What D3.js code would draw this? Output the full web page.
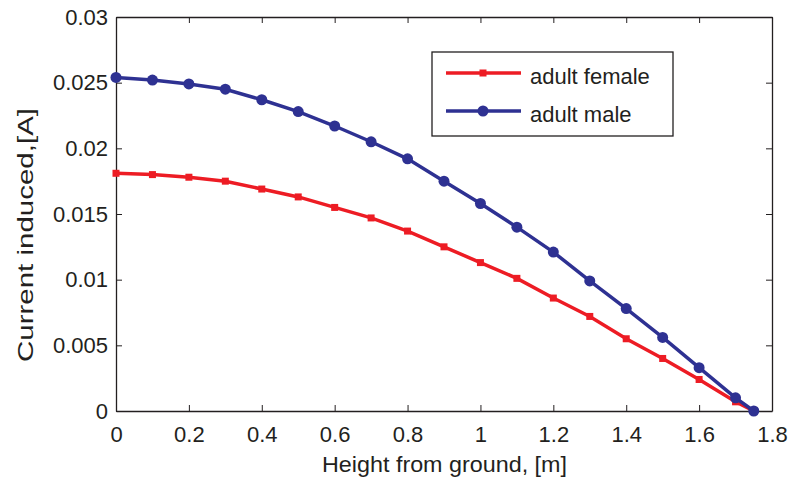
<!DOCTYPE html>
<html>
<head>
<meta charset="utf-8">
<script src="https://cdn.jsdelivr.net/npm/d3@7"></script>
<style>
body{margin:0;background:#fff;}
text{font-family:"Liberation Sans",Arial,sans-serif;fill:#231f20;}
</style>
</head>
<body>
<div id="root"></div>
<script>
// data
var heights=[0,0.1,0.2,0.3,0.4,0.5,0.6,0.7,0.8,0.9,1.0,1.1,1.2,1.3,1.4,1.5,1.6,1.7,1.75];
var female=[0.0181,0.0180,0.0178,0.0175,0.0169,0.0163,0.0155,0.0147,0.0137,0.0125,0.0113,0.0101,0.0086,0.0072,0.0055,0.0040,0.0024,0.0007,0];
var male=[0.0254,0.0252,0.0249,0.0245,0.0237,0.0228,0.0217,0.0205,0.0192,0.0175,0.0158,0.0140,0.0121,0.0099,0.0078,0.0056,0.0033,0.0010,0];
var xTicks=[0,0.2,0.4,0.6,0.8,1,1.2,1.4,1.6,1.8];
var yTicks=[0,0.005,0.01,0.015,0.02,0.025,0.03];
var seriesNames=['adult female','adult male'];

var b={t:17,r:17,b:72,l:116};
var W=789,H=483;
var w=W-b.l-b.r, h=H-b.t-b.b;
var fs=22;

var svg=d3.select('#root').append('svg').attr('width',W).attr('height',H);
var g=svg.append('g').attr('transform','translate('+b.l+','+b.t+')');

var scaleX=d3.scaleLinear().domain([0,1.8]).range([0,w]);
var scaleY=d3.scaleLinear().domain([0,0.03]).range([h,0]);

var fmtY=function(d){return d===0?'0':d3.format('')(+d.toFixed(3))};
var fmtX=function(d){return d3.format('')(+d.toFixed(1))};

// axes, matlab style ticks inside
g.append('g').attr('transform','translate(0,'+h+')')
	.call(d3.axisBottom(scaleX).tickValues(xTicks).tickFormat(fmtX).tickSizeInner(-6).tickSizeOuter(0).tickPadding(15));
g.append('g')
	.call(d3.axisLeft(scaleY).tickValues(yTicks).tickFormat(fmtY).tickSizeInner(-6).tickSizeOuter(0).tickPadding(8));
g.append('g')
	.call(d3.axisTop(scaleX).tickValues(xTicks).tickFormat('').tickSizeInner(-6).tickSizeOuter(0));
g.append('g').attr('transform','translate('+w+',0)')
	.call(d3.axisRight(scaleY).tickValues(yTicks).tickFormat('').tickSizeInner(-6).tickSizeOuter(0));
g.selectAll('.domain').attr('stroke','#231f20').attr('stroke-width',1.3);
g.selectAll('.tick line').attr('stroke','#231f20');
g.selectAll('.tick text').attr('font-size',fs).attr('font-family','"Liberation Sans",Arial,sans-serif').attr('fill','#231f20');

svg.append('text').attr('x',322).attr('y',472).attr('font-size',fs)
	.attr('textLength',245).attr('lengthAdjust','spacingAndGlyphs').text('Height from ground, [m]');
svg.append('text').attr('transform','translate(33,362) rotate(-90)').attr('font-size',fs)
	.attr('textLength',254).attr('lengthAdjust','spacingAndGlyphs').text('Current induced,[A]');

var line=d3.line().x(function(d){return scaleX(d[0])}).y(function(d){return scaleY(d[1])});
var fData=heights.map(function(x,i){return [x,female[i]]});
var mData=heights.map(function(x,i){return [x,male[i]]});

var red='#ed1c24', blue='#2e3192';

g.append('path').attr('d',line(fData)).attr('fill','none').attr('stroke',red).attr('stroke-width',3.5);
g.selectAll('.fm').data(fData).enter().append('rect').attr('class','fm')
	.attr('x',function(d){return scaleX(d[0])-3.5}).attr('y',function(d){return scaleY(d[1])-3.5})
	.attr('width',7).attr('height',7).attr('fill',red);

g.append('path').attr('d',line(mData)).attr('fill','none').attr('stroke',blue).attr('stroke-width',3.5);
g.selectAll('.mm').data(mData).enter().append('circle').attr('class','mm')
	.attr('cx',function(d){return scaleX(d[0])}).attr('cy',function(d){return scaleY(d[1])})
	.attr('r',5.5).attr('fill',blue);

// legend
var lg=svg.append('g').attr('transform','translate(432,52)');
lg.append('rect').attr('width',241).attr('height',84).attr('fill','#fff').attr('stroke','#231f20').attr('stroke-width',1.3);
var items=lg.selectAll('.li').data(seriesNames).enter().append('g').attr('class','li')
	.attr('transform',function(d,i){return 'translate(14,'+(21+i*38)+')'});
items.append('line').attr('x1',0).attr('x2',75).attr('stroke',function(d,i){return i?blue:red}).attr('stroke-width',3.5);
items.each(function(d,i){
	var s=d3.select(this);
	if(i) s.append('circle').attr('cx',37).attr('r',5.5).attr('fill',blue);
	else s.append('rect').attr('x',33.5).attr('y',-3.5).attr('width',7).attr('height',7).attr('fill',red);
});
items.append('text').attr('x',84).attr('y',11).attr('font-size',fs).text(function(d){return d});
</script>
</body>
</html>
